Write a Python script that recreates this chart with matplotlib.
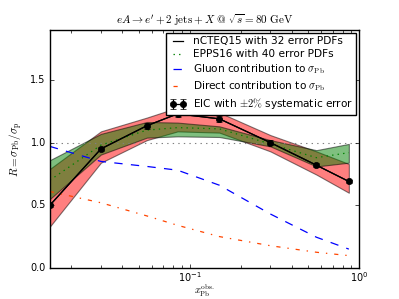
import matplotlib
matplotlib.use('Agg')
import numpy as np
import matplotlib.pyplot as plt

# x_Pb^obs bins and ratios
x = [0.015, 0.03, 0.056, 0.085, 0.15, 0.30, 0.56, 0.87]
r_eic = [0.50, 0.95, 1.135, 1.23, 1.19, 1.00, 0.82, 0.69]
ncteq_lo = [0.33, 0.84, 1.02, 1.09, 1.08, 0.93, 0.745, 0.60]
ncteq_hi = [0.79, 1.09, 1.20, 1.28, 1.24, 1.06, 0.93, 0.83]
epps_c = [0.70, 0.98, 1.10, 1.12, 1.11, 0.99, 0.88, 0.92]
epps_lo = [0.55, 0.905, 1.04, 1.05, 1.045, 0.97, 0.81, 0.84]
epps_hi = [0.86, 1.07, 1.165, 1.16, 1.13, 1.02, 0.94, 0.99]
gluon = [0.97, 0.85, 0.81, 0.78, 0.66, 0.43, 0.245, 0.15]
direct = [0.61, 0.52, 0.415, 0.34, 0.25, 0.177, 0.125, 0.098]

plt.style.use('classic')
plt.rcParams['mathtext.fontset'] = 'dejavusans'
plt.rcParams['figure.facecolor'] = 'white'

fig = plt.figure(figsize=(3.99, 2.99), dpi=100)
ax = fig.add_axes([0.125, 0.104, 0.775, 0.796])

ax.fill_between(x, ncteq_lo, ncteq_hi, color='red', alpha=0.5, edgecolor='k', lw=0.8)
ax.fill_between(x, epps_lo, epps_hi, color='green', alpha=0.5, edgecolor='k', lw=0.8)
ax.axhline(1.0, color='gray', ls=':', lw=0.8)

ax.plot(x, r_eic, 'k-', lw=0.9, label='nCTEQ15 with 32 error PDFs')
ax.plot(x, epps_c, color='green', ls=':', lw=0.9, label='EPPS16 with 40 error PDFs')
ax.plot(x, gluon, 'b--', lw=0.9, label=r'Gluon contribution to $\sigma_{\rm Pb}$')
ax.plot(x, direct, color='orangered', ls='-.', lw=0.9, label=r'Direct contribution to $\sigma_{\rm Pb}$')
yerr = 0.02 * np.array(r_eic)
ax.errorbar(x, r_eic, yerr=yerr, fmt='ko-', ms=4.5, lw=0.9, capsize=2,
            label=r'EIC with $\pm2\%$ systematic error')

ax.set_xscale('log')
ax.set_xlim(0.015, 1.0)
ax.set_ylim(0.0, 1.9)
ax.set_yticks([0.0, 0.5, 1.0, 1.5])
ax.tick_params(labelsize=7, length=3, pad=3)
ax.tick_params(axis='x', pad=1.5)
ax.tick_params(which='minor', length=2)

t = ax.set_title(r'$eA\rightarrow e^\prime + 2\ \mathrm{jets} + X\ @\ \sqrt{s} = 80\ \mathrm{GeV}$', fontsize=8, pad=4)
t.set_math_fontfamily('cm')
yl = ax.set_ylabel(r'$R = \sigma_{\rm Pb}/\sigma_{\rm p}$', fontsize=8, labelpad=4)
yl.set_math_fontfamily('cm')
xl = ax.set_xlabel(r'$x_{\rm Pb}^{\rm obs.}$', fontsize=7.5)
xl.set_math_fontfamily('cm')
ax.xaxis.set_label_coords(0.5, -0.06)

leg = ax.legend(loc='upper right', fontsize=7.6, numpoints=2, borderaxespad=0.3,
                handlelength=1.6, handletextpad=0.6, labelspacing=0.3, borderpad=0.3)
for txt in leg.get_texts():
    txt.set_math_fontfamily('cm')

plt.savefig('out.png', dpi=100)
